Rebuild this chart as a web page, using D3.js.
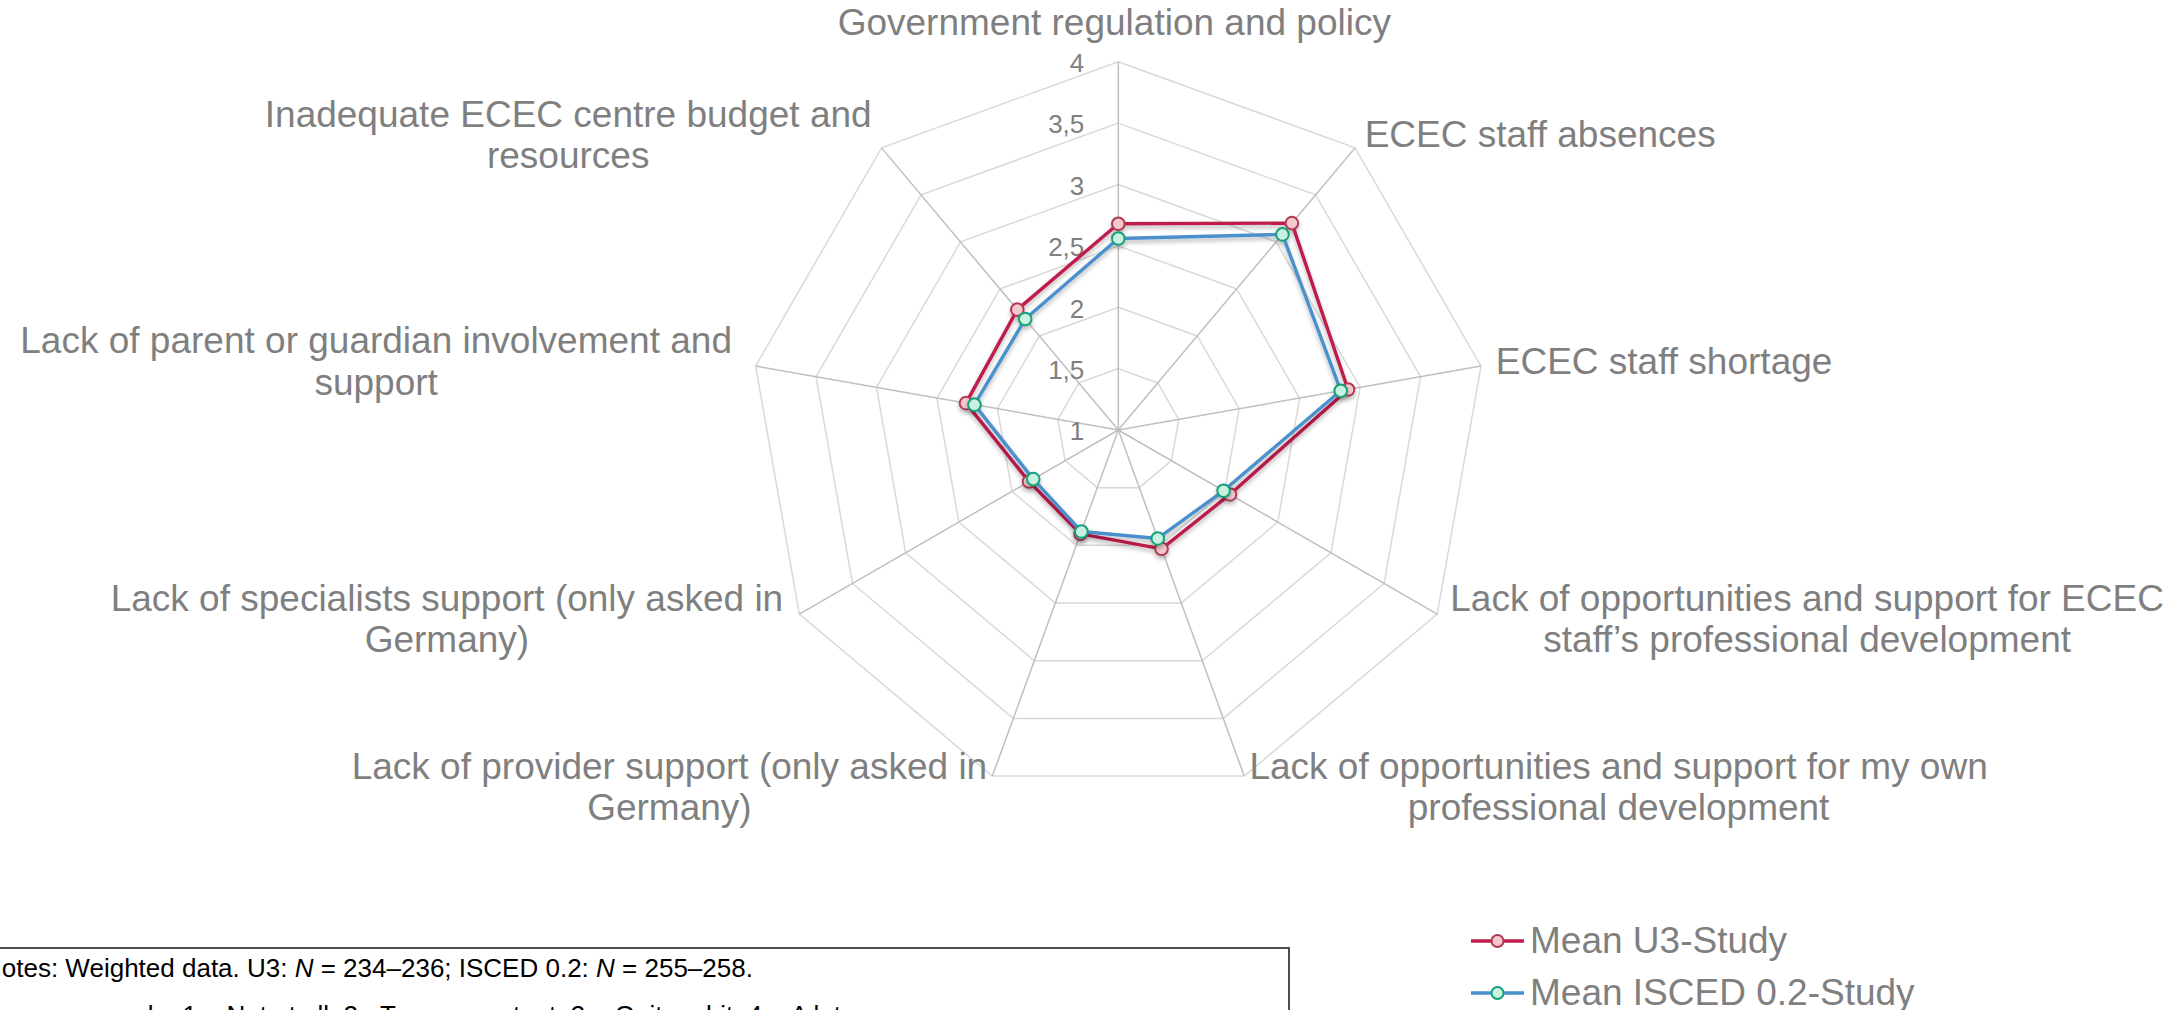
<!DOCTYPE html>
<html>
<head>
<meta charset="utf-8">
<script src="https://cdn.jsdelivr.net/npm/d3@7"></script>
<style>
  html, body { margin: 0; padding: 0; background: #ffffff; overflow: hidden; }
  svg { display: block; font-family: "Liberation Sans", Arial, Helvetica, sans-serif; }
</style>
</head>
<body>
<svg id="chart" width="2182" height="1010"></svg>
<script>
// ---------- data ----------
const categories = [
  ["Government regulation and policy"],
  ["ECEC staff absences"],
  ["ECEC staff shortage"],
  ["Lack of opportunities and support for ECEC", "staff\u2019s professional development"],
  ["Lack of opportunities and support for my own", "professional development"],
  ["Lack of provider support (only asked in", "Germany)"],
  ["Lack of specialists support (only asked in", "Germany)"],
  ["Lack of parent or guardian involvement and", "support"],
  ["Inadequate ECEC centre budget and", "resources"]
];
const seriesNames = ["Mean U3-Study", "Mean ISCED 0.2-Study"];
const u3Values    = [2.68, 3.20, 2.90, 2.05, 2.03, 1.90, 1.84, 2.26, 2.28];
const iscedValues = [2.56, 3.08, 2.84, 1.99, 1.94, 1.88, 1.80, 2.19, 2.18];
const tickValues  = [1, 1.5, 2, 2.5, 3, 3.5, 4];
const tickLabels  = ["1", "1,5", "2", "2,5", "3", "3,5", "4"];
const notesLines  = [
  [{t: "Notes: Weighted data. U3: "}, {t: "N", i: true}, {t: " = 234\u2013236; ISCED 0.2: "}, {t: "N", i: true}, {t: " = 255\u2013258."}],
  [{t: "Response scale: 1 = Not at all; 2= To some extent; 3 = Quite a bit; 4 = A lot"}]
];

// ---------- layout ----------
const svg = d3.select("#chart");
const cx = 1118.3, cy = 430, R = 368.3;
const r = d3.scaleLinear().domain([1, 4]).range([0, R]);
const n = categories.length;
const angle = d3.scaleLinear().domain([0, n]).range([0, 2 * Math.PI]);

const styles = [
  {line: "#be1e4c", fill: "#f6c8ce", stroke: "#b23a53"},
  {line: "#4a90cc", fill: "#c8f2df", stroke: "#15a078"}
];
const labelColor = "#7f7f7f";

const defs = svg.append("defs");
const f = defs.append("filter").attr("id", "shadow")
  .attr("x", "-10%").attr("y", "-10%").attr("width", "120%").attr("height", "120%");
f.append("feDropShadow").attr("dx", 0).attr("dy", 3).attr("stdDeviation", 2)
  .attr("flood-color", "#000").attr("flood-opacity", 0.28);

const g = svg.append("g").attr("transform", `translate(${cx},${cy})`);

// rings
const ringLine = d3.lineRadial().curve(d3.curveLinearClosed);
g.selectAll("path.ring").data(tickValues.filter(v => v > 1)).join("path")
  .attr("class", "ring")
  .attr("d", v => ringLine(d3.range(n).map(i => [angle(i), r(v)])))
  .attr("fill", "none").attr("stroke", "#d9d9d9").attr("stroke-width", 1.5);

// spokes
g.selectAll("line.spoke").data(d3.range(n)).join("line")
  .attr("class", "spoke")
  .attr("x1", 0).attr("y1", 0)
  .attr("x2", i => r(4) * Math.sin(angle(i)))
  .attr("y2", i => -r(4) * Math.cos(angle(i)))
  .attr("stroke", "#bfbfbf").attr("stroke-width", 1.5);

// tick labels
g.selectAll("text.tick").data(tickValues).join("text")
  .attr("class", "tick")
  .attr("x", -34).attr("y", v => -r(v) + 1)
  .attr("dy", "0.36em")
  .attr("text-anchor", "end")
  .attr("font-size", 26).attr("fill", labelColor)
  .text((v, i) => tickLabels[i]);

// series
const seriesLine = d3.lineRadial().curve(d3.curveLinearClosed);
[u3Values, iscedValues].forEach((vals, s) => {
  const sg = g.append("g").attr("filter", "url(#shadow)");
  sg.append("path")
    .attr("d", seriesLine(vals.map((v, i) => [angle(i), r(v)])))
    .attr("fill", "none").attr("stroke", styles[s].line)
    .attr("stroke-width", 3.4).attr("stroke-linejoin", "round");
  sg.selectAll("circle").data(vals).join("circle")
    .attr("cx", (v, i) => r(v) * Math.sin(angle(i)))
    .attr("cy", (v, i) => -r(v) * Math.cos(angle(i)))
    .attr("r", 6.3)
    .attr("fill", styles[s].fill).attr("stroke", styles[s].stroke).attr("stroke-width", 2);
});

// category labels
const fs = 37, lh = 41.5, capH = 0.716 * fs;
categories.forEach((lines, i) => {
  const a = angle(i), sn = Math.sin(a), cs = Math.cos(a);
  const vx = cx + R * sn, vy = cy - R * cs;
  const t = svg.append("text").attr("font-size", fs).attr("fill", labelColor);
  const spans = lines.map(l => t.append("tspan").text(l));
  const widths = spans.map(sp => sp.node().getComputedTextLength());
  const W = d3.max(widths);
  if (Math.abs(sn) < 0.1) {
    spans.forEach((sp, k) => {
      sp.attr("x", vx - 4).attr("y", vy - 27 - (lines.length - 1 - k) * lh)
        .attr("text-anchor", "middle");
    });
  } else {
    const as = Math.abs(sn);
    const pad = sn > 0 ? 15 * as : 15 * as + 10 * Math.pow(as, 8);
    const left = sn > 0 ? vx + pad : vx - pad - W;
    const center = vy - 14 * cs - 2.9;
    const b1 = center + (capH - (lines.length - 1) * lh) / 2;
    spans.forEach((sp, k) => {
      sp.attr("x", left + W / 2).attr("y", b1 + k * lh).attr("text-anchor", "middle");
    });
  }
});

// legend
const legX = 1471, legY0 = 941, legGap = 52;
seriesNames.forEach((name, s) => {
  const y = legY0 + s * legGap;
  const lg = svg.append("g");
  lg.append("line").attr("x1", legX).attr("x2", legX + 53).attr("y1", y).attr("y2", y)
    .attr("stroke", styles[s].line).attr("stroke-width", 3.4);
  lg.append("circle").attr("cx", legX + 26.5).attr("cy", y).attr("r", 6)
    .attr("fill", styles[s].fill).attr("stroke", styles[s].stroke).attr("stroke-width", 2);
  lg.append("text").attr("x", legX + 59).attr("y", y + 11.5)
    .attr("font-size", 37).attr("fill", labelColor).text(name);
});

// notes box
svg.append("rect").attr("x", -4).attr("y", 948).attr("width", 1293).attr("height", 120)
  .attr("fill", "none").attr("stroke", "#4d4d4d").attr("stroke-width", 2);
notesLines.forEach((parts, k) => {
  const t = svg.append("text").attr("x", -17).attr("y", 977 + k * 47)
    .attr("font-size", 26).attr("fill", "#000");
  parts.forEach(p => t.append("tspan").attr("font-style", p.i ? "italic" : null).text(p.t));
});
</script>
</body>
</html>
